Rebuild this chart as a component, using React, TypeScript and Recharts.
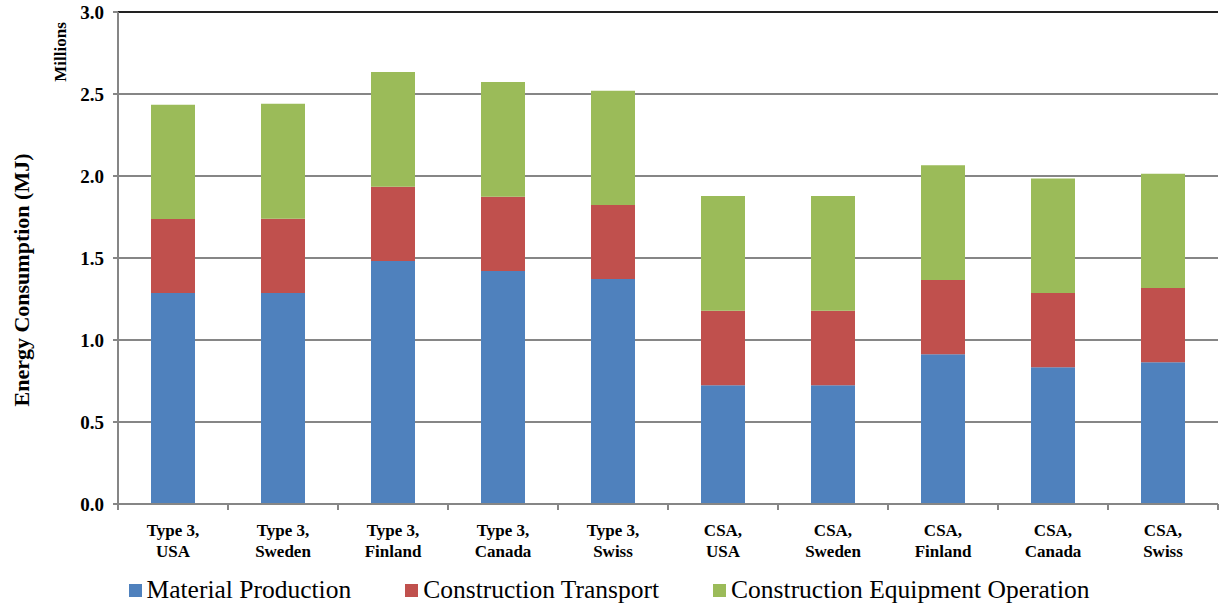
import React from "react";
import {
  BarChart,
  Bar,
  XAxis,
  YAxis,
  CartesianGrid,
  ReferenceLine,
  Legend,
} from "recharts";

const categories = [
  "Type 3, USA",
  "Type 3, Sweden",
  "Type 3, Finland",
  "Type 3, Canada",
  "Type 3, Swiss",
  "CSA, USA",
  "CSA, Sweden",
  "CSA, Finland",
  "CSA, Canada",
  "CSA, Swiss",
];
const material = [1.287, 1.287, 1.482, 1.421, 1.372, 0.724, 0.724, 0.913, 0.834, 0.864];
const transport = [0.451, 0.453, 0.453, 0.453, 0.451, 0.455, 0.455, 0.453, 0.453, 0.453];
const equipment = [0.697, 0.701, 0.699, 0.699, 0.697, 0.699, 0.699, 0.699, 0.697, 0.697];
const yTicks = [0, 0.5, 1.0, 1.5, 2.0, 2.5, 3.0];

const data = categories.map((c, i) => ({
  name: c,
  material: material[i],
  transport: transport[i],
  equipment: equipment[i],
}));

const FONT = "'Liberation Serif', 'Times New Roman', serif";
const GRID = "#868686";

const series = [
  { key: "material", name: "Material Production", color: "#4F81BD" },
  { key: "transport", name: "Construction Transport", color: "#C0504D" },
  { key: "equipment", name: "Construction Equipment Operation", color: "#9BBB59" },
];

function XTick(props: any) {
  const { x, y, payload, index } = props;
  const [l1, l2] = String(payload.value).split(", ");
  const half = 55;
  return (
    <g>
      <line x1={x - half} x2={x - half} y1={y - 8} y2={y - 2} stroke={GRID} strokeWidth={2} />
      {index === categories.length - 1 && (
        <line x1={x + half} x2={x + half} y1={y - 8} y2={y - 2} stroke={GRID} strokeWidth={2} />
      )}
      <text
        x={x}
        y={y}
        textAnchor="middle"
        fontFamily={FONT}
        fontWeight="bold"
        fontSize={17}
        fill="#000"
      >
        <tspan x={x} dy={24}>{l1 + ","}</tspan>
        <tspan x={x} dy={21}>{l2}</tspan>
      </text>
    </g>
  );
}

function LegendContent() {
  return (
    <div
      style={{
        display: "flex",
        justifyContent: "center",
        alignItems: "center",
        height: 37,
        paddingTop: 3,
        boxSizing: "border-box",
        gap: 54,
        fontFamily: FONT,
        fontSize: 25.5,
        color: "#000",
      }}
    >
      {series.map((s) => (
        <div key={s.key} style={{ display: "flex", alignItems: "center" }}>
          <span
            style={{
              display: "inline-block",
              width: 13,
              height: 13,
              background: s.color,
              marginRight: 5,
            }}
          />
          <span>{s.name}</span>
        </div>
      ))}
    </div>
  );
}

export default function App() {
  return (
    <div
      style={{
        position: "absolute",
        left: 0,
        top: 0,
        width: 1224,
        height: 607,
        background: "#fff",
      }}
    >
      <BarChart
        width={1224}
        height={607}
        data={data}
        margin={{ top: 12, right: 6, left: 0, bottom: 0 }}
        barCategoryGap="30%"
      >
        <CartesianGrid vertical={false} stroke={GRID} strokeWidth={2} />
        <XAxis
          dataKey="name"
          interval={0}
          height={66}
          tickLine={false}
          axisLine={{ stroke: GRID, strokeWidth: 2 }}
          tick={<XTick />}
        />
        <YAxis
          width={118}
          domain={[0, 3]}
          ticks={yTicks}
          tickFormatter={(v: number) => v.toFixed(1)}
          tickSize={5}
          tickMargin={9}
          tickLine={{ stroke: GRID, strokeWidth: 2 }}
          axisLine={{ stroke: GRID, strokeWidth: 2 }}
          tick={{ fontFamily: FONT, fontWeight: "bold", fontSize: 19, fill: "#000" }}
        />
        <YAxis
          yAxisId="right"
          orientation="right"
          width={0}
          domain={[0, 3]}
          tick={false}
          tickLine={false}
          axisLine={{ stroke: "#000", strokeWidth: 1 }}
        />
        <ReferenceLine y={3} stroke="#000" strokeWidth={1.5} />
        <Legend verticalAlign="bottom" height={37} content={<LegendContent />} />
        {series.map((s) => (
          <Bar
            key={s.key}
            dataKey={s.key}
            name={s.name}
            stackId="a"
            fill={s.color}
            isAnimationActive={false}
          />
        ))}
      </BarChart>
      <div
        style={{
          position: "absolute",
          left: 22,
          top: 280,
          transform: "translate(-50%, -50%) rotate(-90deg)",
          whiteSpace: "nowrap",
          fontFamily: FONT,
          fontWeight: "bold",
          fontSize: 22,
        }}
      >
        Energy Consumption (MJ)
      </div>
      <div
        style={{
          position: "absolute",
          left: 61,
          top: 52,
          transform: "translate(-50%, -50%) rotate(-90deg)",
          whiteSpace: "nowrap",
          fontFamily: FONT,
          fontWeight: "bold",
          fontSize: 17,
        }}
      >
        Millions
      </div>
    </div>
  );
}
